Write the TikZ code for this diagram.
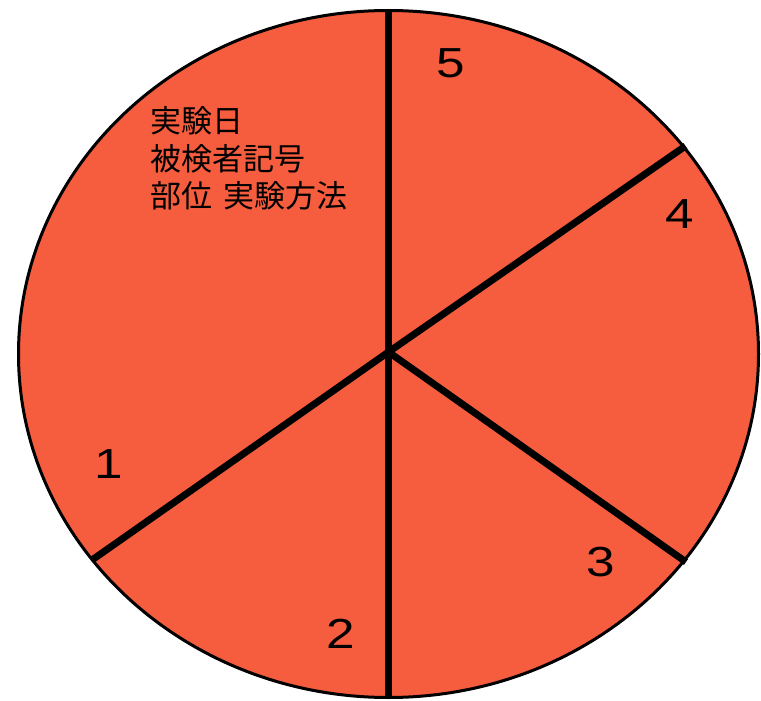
\documentclass[tikz,border=0pt]{standalone}
\usepackage{fontspec}
\setmainfont{Liberation Sans}
\newfontfamily\cjk{Noto Sans CJK JP}
\definecolor{piefill}{HTML}{F65C3E}
\begin{document}
\begin{tikzpicture}[x=1pt,y=-1pt,
  divider/.style={line width=7pt,black},
  numlabel/.style={anchor=base,inner sep=0pt,font=\fontsize{42}{42}\selectfont},
  jptext/.style={anchor=base west,inner sep=0pt,font=\cjk\fontsize{31}{36}\selectfont}]
\useasboundingbox (0,0) rectangle (761,701);
\draw[line width=3pt,fill=piefill] (388.5,354) ellipse [x radius=370, y radius=343.5];
\coordinate (c) at (388.5,352);
\coordinate (top) at (388.5,10);
\coordinate (bot) at (388.5,698);
\coordinate (ur) at (685.5,146);
\coordinate (ll) at (92,560);
\coordinate (lr) at (686,562);
\draw[divider] (top) -- (bot);
\draw[divider] (c) -- (ur);
\draw[divider] (c) -- (ll);
\draw[divider] (c) -- (lr);
\node[numlabel] (n5) at (451,77.5) {\scalebox{1.22}[1]{5}};
\node[numlabel] (n4) at (679.5,228) {\scalebox{1.22}[1]{4}};
\node[numlabel] (n1) at (109,478) {\scalebox{1.22}[1]{1}};
\node[numlabel] (n3) at (600.5,576) {\scalebox{1.22}[1]{3}};
\node[numlabel] (n2) at (341,648) {\scalebox{1.22}[1]{2}};
\node[jptext] (t1) at (150,132) {実験日};
\node[jptext] (t2) at (150,170.5) {被検者記号};
\node[jptext] (t3) at (150,207) {部位\hspace{4pt} 実験方法};
\end{tikzpicture}
\end{document}
